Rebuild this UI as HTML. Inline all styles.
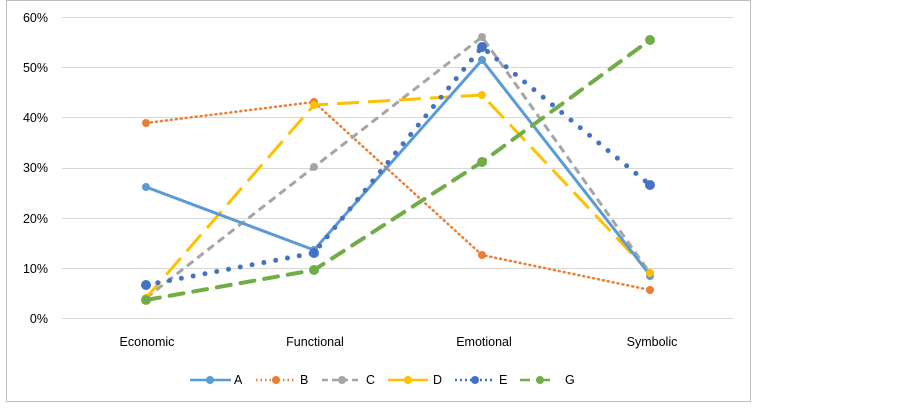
<!DOCTYPE html>
<html><head><style>body{margin:0;background:#fff}svg text{font-family:"Liberation Sans",sans-serif;font-size:12.5px;fill:#000}</style></head><body>
<svg width="902" height="403" xmlns="http://www.w3.org/2000/svg">
<rect x="6.5" y="0.5" width="744" height="401" fill="#fff" stroke="#bfbfbf"/>
<g stroke="#d9d9d9" stroke-width="1">
<line x1="62" x2="733" y1="17.5" y2="17.5"/><line x1="62" x2="733" y1="67.5" y2="67.5"/><line x1="62" x2="733" y1="117.5" y2="117.5"/><line x1="62" x2="733" y1="168.5" y2="168.5"/><line x1="62" x2="733" y1="218.5" y2="218.5"/><line x1="62" x2="733" y1="268.5" y2="268.5"/><line x1="62" x2="733" y1="318.5" y2="318.5"/>
</g>
<g text-anchor="end"><text x="48" y="22">60%</text><text x="48" y="72">50%</text><text x="48" y="122">40%</text><text x="48" y="172">30%</text><text x="48" y="223">20%</text><text x="48" y="273">10%</text><text x="48" y="323">0%</text></g>
<g text-anchor="middle"><text x="147" y="346">Economic</text><text x="315" y="346">Functional</text><text x="484" y="346">Emotional</text><text x="652" y="346">Symbolic</text></g>
<g fill="none" stroke-width="3">
<polyline stroke="#ed7d31" stroke-width="2.5" stroke-dasharray="1 4" stroke-linecap="round" points="146,123 314,102 482,255 650,290"/>
<polyline stroke="#a5a5a5" stroke-dasharray="8 5" points="146,298 314,167 482,37 650,273"/>
<polyline stroke="#ffc000" stroke-dasharray="22 9" points="146,298 314,105 482,95 650,273"/>
<polyline stroke="#5b9bd5" points="146,187 314,250 482,60 650,275"/>
<polyline stroke="#4472c4" stroke-width="5" stroke-dasharray="0 12" stroke-linecap="round" points="146,285 314,253 482,47 650,185"/>
<polyline stroke="#70ad47" stroke-width="4" stroke-dasharray="14 10" stroke-linecap="round" points="146,300 314,270 482,162 650,40"/>
</g>
<g>
<circle cx="146" cy="123" r="4" fill="#ed7d31"/><circle cx="314" cy="102" r="4" fill="#ed7d31"/><circle cx="482" cy="255" r="4" fill="#ed7d31"/><circle cx="650" cy="290" r="4" fill="#ed7d31"/>
<circle cx="314" cy="167" r="4" fill="#a5a5a5"/><circle cx="482" cy="37" r="4" fill="#a5a5a5"/><circle cx="650" cy="273" r="4" fill="#a5a5a5"/>
<circle cx="146" cy="298" r="4" fill="#ffc000"/><circle cx="314" cy="105" r="4" fill="#ffc000"/><circle cx="482" cy="95" r="4" fill="#ffc000"/>
<circle cx="146" cy="187" r="4" fill="#5b9bd5"/><circle cx="314" cy="250" r="4" fill="#5b9bd5"/><circle cx="482" cy="60" r="4" fill="#5b9bd5"/><circle cx="650" cy="276" r="4" fill="#5b9bd5"/><circle cx="650" cy="273" r="4" fill="#ffc000"/>
<circle cx="146" cy="285" r="5" fill="#4472c4"/><circle cx="314" cy="253" r="5" fill="#4472c4"/><circle cx="482" cy="47" r="5" fill="#4472c4"/><circle cx="650" cy="185" r="5" fill="#4472c4"/>
<circle cx="146" cy="300" r="5" fill="#70ad47"/><circle cx="314" cy="270" r="5" fill="#70ad47"/><circle cx="482" cy="162" r="5" fill="#70ad47"/><circle cx="650" cy="40" r="5" fill="#70ad47"/>
</g>
<g stroke-width="2.5" fill="none">
<line x1="190" x2="231" y1="380" y2="380" stroke="#5b9bd5"/>
<line x1="256" x2="296" y1="380" y2="380" stroke="#ed7d31" stroke-dasharray="1.5 3"/>
<line x1="322" x2="362" y1="380" y2="380" stroke="#a5a5a5" stroke-dasharray="6 4"/>
<line x1="388" x2="429" y1="380" y2="380" stroke="#ffc000" stroke-dasharray="16 8"/>
<line x1="455" x2="495" y1="380" y2="380" stroke="#4472c4" stroke-dasharray="2 3"/>
<line x1="520" x2="560" y1="380" y2="380" stroke="#70ad47" stroke-dasharray="10 10"/>
</g>
<circle cx="210" cy="380" r="4" fill="#5b9bd5"/><circle cx="276" cy="380" r="4" fill="#ed7d31"/><circle cx="342" cy="380" r="4" fill="#a5a5a5"/><circle cx="408" cy="380" r="4" fill="#ffc000"/><circle cx="475" cy="380" r="4" fill="#4472c4"/><circle cx="540" cy="380" r="4" fill="#70ad47"/>
<text x="234" y="384">A</text><text x="300" y="384">B</text><text x="366" y="384">C</text><text x="433" y="384">D</text><text x="499" y="384">E</text><text x="565" y="384">G</text>
</svg>
</body></html>
